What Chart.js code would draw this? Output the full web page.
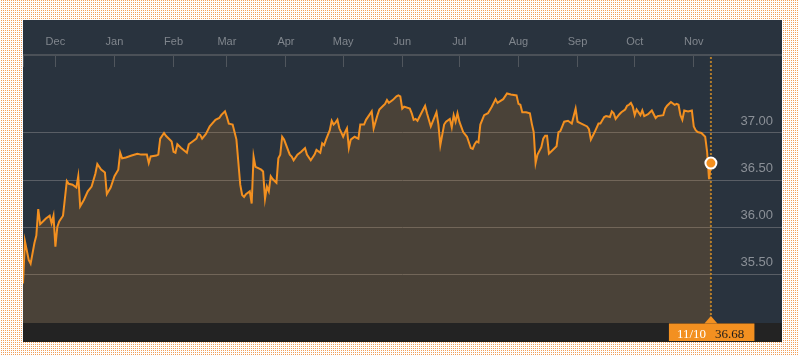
<!DOCTYPE html>
<html>
<head>
<meta charset="utf-8">
<script src="https://cdn.jsdelivr.net/npm/chart.js@4/dist/chart.umd.min.js"></script>
<style>
  html, body { margin: 0; padding: 0; }
  body {
    width: 798px; height: 356px; overflow: hidden; position: relative;
    background-color: #ffffff;
    background-image: conic-gradient(#f2a059 0 25%, #ffffff 0 100%);
    background-size: 2px 2px;
  }
  #panel { position: absolute; left: 23px; top: 20px; width: 759px; height: 322px; background: #29333e; }
  canvas { display: block; }
</style>
</head>
<body>
<div id="panel"><canvas id="c" width="759" height="322"></canvas></div>
<script>
// Day offsets are counted from 1 December (2016); the last point is 10 November.
const days = [
  -17,-16,-14,-13,-11,-10,-9,-8,-6,-5,-3,-2,-1,0,1,2,4,6,7,9,11,12,13,15,17,19,21,22,24,26,27,29,31,33,34,35,37,40,43,45,48,49,50,53,54,55,57,58,61,62,63,64,66,69,70,72,74,75,76,77,79,81,84,86,87,89,90,91,93,94,95,97,98,99,100,102,103,104,105,107,108,109,110,111,112,113,114,116,117,118,119,120,123,124,125,127,129,131,132,134,136,137,139,140,141,142,144,145,146,147,148,149,151,152,153,154,155,157,159,160,162,163,166,167,169,170,172,173,174,175,177,179,180,181,182,183,186,187,188,189,190,192,194,195,197,198,200,201,202,204,205,207,208,209,210,211,212,214,216,218,219,220,221,222,223,225,227,229,231,232,235,237,239,242,243,244,245,247,249,250,251,252,253,255,256,257,258,259,261,263,264,265,267,269,271,272,273,274,276,279,280,281,283,285,286,288,289,291,292,293,294,296,297,299,300,301,302,303,304,305,307,308,309,311,313,315,316,319,320,321,323,325,326,327,328,329,330,332,334,335,336,337,339,341,342,343,344
];
const closes = [
  35.40,35.85,35.65,35.61,35.83,35.91,36.19,36.03,36.07,36.09,36.12,36.04,36.12,35.79,36.00,36.06,36.12,36.49,36.46,36.45,36.42,36.54,36.22,36.29,36.38,36.43,36.57,36.67,36.61,36.58,36.35,36.42,36.54,36.61,36.79,36.73,36.74,36.76,36.78,36.77,36.77,36.68,36.75,36.76,36.77,36.94,37.00,36.97,36.91,36.80,36.79,36.88,36.84,36.79,36.88,36.91,36.94,36.99,36.98,36.94,36.99,37.07,37.14,37.16,37.19,37.23,37.17,37.10,37.09,37.01,36.93,36.45,36.34,36.32,36.35,36.38,36.25,36.75,36.64,36.62,36.61,36.59,36.30,36.43,36.38,36.54,36.51,36.47,36.73,36.77,36.96,36.93,36.77,36.75,36.71,36.77,36.80,36.84,36.77,36.71,36.77,36.82,36.79,36.89,36.87,36.93,37.03,37.13,37.09,37.11,37.14,37.05,36.96,37.01,37.05,36.84,36.93,36.96,36.94,37.09,37.09,37.14,37.23,37.05,37.19,37.25,37.29,37.31,37.35,37.32,37.35,37.39,37.40,37.39,37.26,37.28,37.26,37.21,37.14,37.15,37.13,37.21,37.29,37.21,37.07,37.12,37.22,37.09,36.87,37.09,37.12,37.15,37.06,37.19,37.12,37.21,37.12,37.01,36.96,36.84,36.83,36.88,36.91,36.90,37.09,37.19,37.21,37.28,37.36,37.32,37.36,37.42,37.41,37.40,37.31,37.30,37.22,37.22,37.21,37.10,37.01,36.68,36.77,36.85,36.94,36.97,36.97,36.78,36.82,36.86,37.01,37.02,37.12,37.13,37.10,37.18,37.26,37.12,37.10,37.07,37.04,36.93,37.01,37.10,37.10,37.17,37.18,37.17,37.23,37.21,37.15,37.20,37.22,37.25,37.29,37.30,37.32,37.28,37.19,37.25,37.19,37.24,37.18,37.20,37.24,37.16,37.18,37.19,37.26,37.29,37.33,37.30,37.31,37.30,37.19,37.14,37.24,37.23,37.24,37.07,37.03,37.01,37.00,36.96,36.80,36.51,36.68
];
const monthNames = ['Dec','Jan','Feb','Mar','Apr','May','Jun','Jul','Aug','Sep','Oct','Nov'];
const monthNumbers = [12,1,2,3,4,5,6,7,8,9,10,11];
const monthStartDays = [0,31,62,90,121,151,182,212,243,274,304,335];
const yTicks = [35.5, 36.0, 36.5, 37.0];

const X_MIN = -17, X_MAX = 381.3;
const Y_MIN = 34.979, Y_MAX = 37.702;
const ORANGE = '#f39020';

const lastIdx = days.length - 1;
const lastDay = days[lastIdx];
let mi = 0;
for (let i = 0; i < monthStartDays.length; i++) if (monthStartDays[i] <= lastDay) mi = i;
const lastDateLabel = monthNumbers[mi] + '/' + (lastDay - monthStartDays[mi] + 1);

function noPad(s) { s.paddingLeft = 0; s.paddingRight = 0; s.paddingTop = 0; s.paddingBottom = 0; }

const decor = {
  id: 'decor',
  beforeDatasetsDraw(chart) {
    const {ctx, chartArea, scales: {x}} = chart;
    const px = x.getPixelForValue(lastDay);
    ctx.save();
    ctx.strokeStyle = '#b07c2c';
    ctx.lineWidth = 2;
    ctx.setLineDash([2, 2]);
    ctx.beginPath();
    ctx.moveTo(px, chartArea.top - 10);
    ctx.lineTo(px, chartArea.bottom);
    ctx.stroke();
    ctx.restore();
  },
  afterDraw(chart) {
    const {ctx, chartArea, width, height, scales: {x}} = chart;
    ctx.save();
    // top axis line
    ctx.fillStyle = '#4b5158';
    ctx.fillRect(0, chartArea.top - 13, width, 2);
    // bottom strip
    ctx.fillStyle = '#232323';
    ctx.fillRect(0, chartArea.bottom, width, height - chartArea.bottom);
    // tag
    const px = x.getPixelForValue(lastDay);
    const tTop = chartArea.bottom + 0.5;
    ctx.fillStyle = ORANGE;
    ctx.beginPath();
    ctx.moveTo(px - 6.5, tTop);
    ctx.lineTo(px, tTop - 7.5);
    ctx.lineTo(px + 6.5, tTop);
    ctx.closePath();
    ctx.fill();
    const left = px - 42, right = px + 43.5;
    ctx.fillRect(left, tTop, right - left, 17.5);
    ctx.font = '13px "Liberation Serif", "Times New Roman", serif';
    ctx.textBaseline = 'alphabetic';
    ctx.textAlign = 'left';
    ctx.fillStyle = '#ffffff';
    ctx.fillText(lastDateLabel, left + 8, tTop + 14);
    ctx.fillStyle = '#1b1b1b';
    ctx.fillText(closes[lastIdx].toFixed(2), left + 46, tTop + 14);
    ctx.restore();
  }
};

new Chart(document.getElementById('c'), {
  type: 'line',
  data: {
    datasets: [{
      data: days.map((d, i) => ({x: d, y: closes[i]})),
      borderColor: ORANGE,
      borderWidth: 2,
      backgroundColor: 'rgba(240,140,30,0.17)',
      fill: 'start',
      tension: 0,
      pointRadius: ctx => ctx.dataIndex === lastIdx ? 5.5 : 0,
      pointHoverRadius: 0,
      pointBackgroundColor: ORANGE,
      pointBorderColor: '#ffffff',
      pointBorderWidth: 2
    }]
  },
  options: {
    responsive: false,
    animation: false,
    devicePixelRatio: 1,
    events: [],
    layout: { autoPadding: false, padding: { top: 0, left: 0, right: 0, bottom: 19 } },
    plugins: { legend: { display: false }, tooltip: { enabled: false } },
    scales: {
      x: {
        type: 'linear',
        position: 'top',
        min: X_MIN,
        max: X_MAX,
        afterBuildTicks: s => {
          s.ticks = [{value: X_MIN}].concat(monthStartDays.map(v => ({value: v}))).concat([{value: X_MAX}]);
        },
        afterFit: s => { s.height = 47; noPad(s); },
        border: { display: false },
        grid: { drawOnChartArea: false, drawTicks: true, tickLength: 12, color: '#50565d', lineWidth: 1 },
        ticks: {
          autoSkip: false, maxRotation: 0, minRotation: 0, padding: 6,
          color: '#80868d',
          font: { family: '"Liberation Sans", Arial, Helvetica, sans-serif', size: 11 },
          callback: v => { const k = monthStartDays.indexOf(v); return k >= 0 ? monthNames[k] : ''; }
        }
      },
      y: {
        type: 'linear',
        position: 'right',
        min: Y_MIN,
        max: Y_MAX,
        afterBuildTicks: s => { s.ticks = yTicks.map(v => ({value: v})); },
        afterFit: s => { s.width = 0; noPad(s); },
        border: { display: false },
        grid: { drawTicks: false, color: '#595e65', lineWidth: 1 },
        ticks: {
          mirror: true, padding: -9, labelOffset: -12,
          color: '#8b9097',
          font: { family: '"Liberation Sans", Arial, Helvetica, sans-serif', size: 13 },
          callback: v => Number(v).toFixed(2)
        }
      }
    }
  },
  plugins: [decor]
});
</script>
</body>
</html>
